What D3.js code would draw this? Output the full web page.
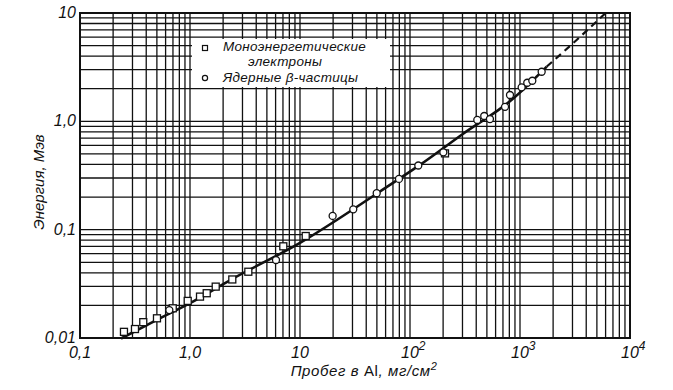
<!DOCTYPE html>
<head>
  <meta charset="utf-8" />
  <script src="https://cdn.jsdelivr.net/npm/d3@7"></script>
  <style>
    body {
      margin: 0;
      background-color: #fff;
    }
    text {
      font-family: "Liberation Sans", "DejaVu Sans", sans-serif;
      font-style: italic;
      fill: #111;
    }
    .grid line {
      stroke: #111;
      stroke-width: 1.3;
    }
  </style>
</head>

<body>
  <script>
    // range in Al (mg/cm2) vs energy (MeV)
    var curveSolid = [
      [0.236, 0.0099], [0.5, 0.0147], [1, 0.021], [2.41, 0.035], [10, 0.0755],
      [53, 0.224], [123, 0.396], [300, 0.76], [841, 1.58], [1750, 3.2]
    ];
    var curveDashed = [[1750, 3.2], [3500, 6.0], [6000, 10]];

    var monoElectrons = [
      [0.251, 0.0114], [0.316, 0.0121], [0.376, 0.0140], [0.501, 0.0152],
      [0.697, 0.0188], [0.953, 0.0220], [1.233, 0.0241], [1.419, 0.0259],
      [1.713, 0.0298], [2.424, 0.0347], [3.39, 0.0409], [7.05, 0.0702],
      [11.27, 0.0874], [208, 0.506]
    ];
    var betaParticles = [
      [0.649, 0.0181], [6.05, 0.0525], [19.8, 0.134], [30.5, 0.154],
      [49.8, 0.217], [79.4, 0.294], [119, 0.391], [201, 0.518],
      [409, 1.03], [473, 1.12], [533, 1.05], [731, 1.36], [811, 1.75],
      [1035, 2.06], [1164, 2.27], [1294, 2.37], [1574, 2.87]
    ];

    var xTicks = [0.1, 1, 10, 100, 1000, 10000];
    var xTickText = ["0,1", "1,0", "10", "10|2", "10|3", "10|4"];
    var yTicks = [0.01, 0.1, 1, 10];
    var yTickText = ["0,01", "0,1", "1,0", "10"];

    var width = 673,
      height = 390;
    var margin = { top: 13, right: 43, bottom: 52, left: 80 };

    var svg = d3
      .select("body")
      .append("svg")
      .attr("width", width)
      .attr("height", height);

    svg.append("rect").attr("width", width).attr("height", height).attr("fill", "#fff");

    var x = d3.scaleLog().domain([0.1, 1e4]).range([margin.left, width - margin.right]);
    var y = d3.scaleLog().domain([0.01, 10]).range([height - margin.bottom, margin.top]);

    // log grid, 1..9 in every decade
    var grid = svg.append("g").attr("class", "grid");
    grid
      .selectAll(".vx")
      .data(x.ticks())
      .enter()
      .append("line")
      .attr("x1", d => x(d))
      .attr("x2", d => x(d))
      .attr("y1", y.range()[0])
      .attr("y2", y.range()[1]);
    grid
      .selectAll(".hy")
      .data(y.ticks())
      .enter()
      .append("line")
      .attr("x1", x.range()[0])
      .attr("x2", x.range()[1])
      .attr("y1", d => y(d))
      .attr("y2", d => y(d));

    // frame
    svg
      .append("rect")
      .attr("x", x.range()[0])
      .attr("y", y.range()[1])
      .attr("width", x.range()[1] - x.range()[0])
      .attr("height", y.range()[0] - y.range()[1])
      .attr("fill", "none")
      .attr("stroke", "#111")
      .attr("stroke-width", 2);

    // legend box knocks out the grid
    var lg = svg.append("g");
    lg.append("rect")
      .attr("x", 192)
      .attr("y", 39)
      .attr("width", 198)
      .attr("height", 48)
      .attr("fill", "#fff");
    lg.append("rect")
      .attr("x", 202.5)
      .attr("y", 45.5)
      .attr("width", 5)
      .attr("height", 5)
      .attr("fill", "#fff")
      .attr("stroke", "#111")
      .attr("stroke-width", 1.2);
    lg.append("circle")
      .attr("cx", 205)
      .attr("cy", 78)
      .attr("r", 2.6)
      .attr("fill", "#fff")
      .attr("stroke", "#111")
      .attr("stroke-width", 1.2);
    lg.append("text").attr("x", 223).attr("y", 51).style("font-size", "13.5px").style("letter-spacing", "0.3px").text("Моноэнергетические");
    lg.append("text").attr("x", 248).attr("y", 66).style("font-size", "13.5px").style("letter-spacing", "0.3px").text("электроны");
    lg.append("text").attr("x", 223).attr("y", 82).style("font-size", "13.5px").style("letter-spacing", "0.3px").text("Ядерные β-частицы");

    // curve
    var line = d3
      .line()
      .x(d => x(d[0]))
      .y(d => y(d[1]))
      .curve(d3.curveMonotoneX);

    svg
      .append("path")
      .datum(curveSolid)
      .attr("d", line)
      .attr("fill", "none")
      .attr("stroke", "#111")
      .attr("stroke-width", 2.6);
    svg
      .append("path")
      .datum(curveDashed)
      .attr("d", line)
      .attr("fill", "none")
      .attr("stroke", "#111")
      .attr("stroke-width", 2.2)
      .attr("stroke-dasharray", "7,5");

    // points
    svg
      .selectAll(".sq")
      .data(monoElectrons)
      .enter()
      .append("rect")
      .attr("x", d => x(d[0]) - 3.5)
      .attr("y", d => y(d[1]) - 3.5)
      .attr("width", 7)
      .attr("height", 7)
      .attr("fill", "#fff")
      .attr("stroke", "#111")
      .attr("stroke-width", 1.3);
    svg
      .selectAll(".ci")
      .data(betaParticles)
      .enter()
      .append("circle")
      .attr("cx", d => x(d[0]))
      .attr("cy", d => y(d[1]))
      .attr("r", 3.5)
      .attr("fill", "#fff")
      .attr("stroke", "#111")
      .attr("stroke-width", 1.3);

    // tick labels
    yTicks.forEach((v, i) => {
      svg
        .append("text")
        .attr("x", x.range()[0] - 4)
        .attr("y", y(v) + 5)
        .attr("text-anchor", "end")
        .style("font-size", "16px")
        .text(yTickText[i]);
    });
    xTicks.forEach((v, i) => {
      var parts = xTickText[i].split("|");
      var t = svg
        .append("text")
        .attr("y", 358)
        .style("font-size", "16px");
      if (parts.length == 1) {
        t.attr("x", x(v)).attr("text-anchor", "middle").text(parts[0]);
      } else {
        t.attr("x", x(v) - 9).text(parts[0]);
        t.append("tspan").attr("dy", -8).style("font-size", "12px").text(parts[1]);
      }
    });

    // axis titles
    var xt = svg
      .append("text")
      .attr("x", 364)
      .attr("y", 376)
      .attr("text-anchor", "middle")
      .style("font-size", "15px")
      .style("letter-spacing", "0.6px");
    xt.append("tspan").text("Пробег в ");
    xt.append("tspan").style("font-style", "normal").text("Al");
    xt.append("tspan").text(", мг/см");
    xt.append("tspan").attr("dy", -6).style("font-size", "11px").text("2");

    svg
      .append("text")
      .attr("transform", "translate(44,182) rotate(-90)")
      .attr("text-anchor", "middle")
      .style("font-size", "15px")
      .text("Энергия, Мэв");
  </script>
</body>
